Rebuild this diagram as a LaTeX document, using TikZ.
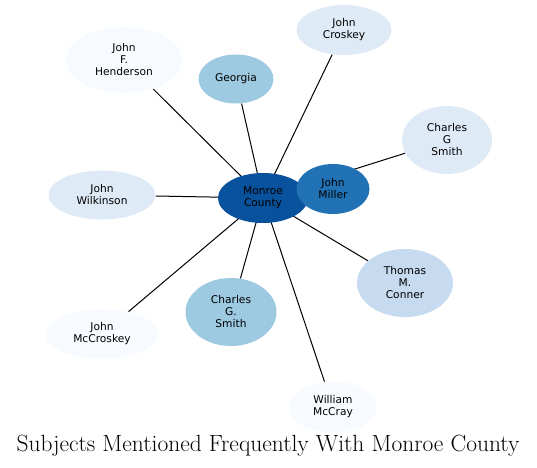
\documentclass[tikz,border=0pt]{standalone}
\usepackage{fontspec}
\usepackage{tikz}
\usetikzlibrary{shapes.geometric,backgrounds}
\newfontfamily\labelfont{DejaVu Sans}
\definecolor{bluA}{HTML}{F7FBFF}
\definecolor{bluB}{HTML}{DEEBF7}
\definecolor{bluC}{HTML}{C6DBEF}
\definecolor{bluD}{HTML}{9ECAE1}
\definecolor{bluE}{HTML}{2171B5}
\definecolor{bluF}{HTML}{08519C}
\tikzset{
  subject/.style={ellipse, draw=none, inner sep=0pt, align=center, text=black,
    font=\labelfont\fontsize{8}{9}\selectfont},
  sz/.style 2 args={minimum width=#1*0.75pt, minimum height=#2*0.75pt},
  link/.style={draw=black, line width=0.75pt}
}

\begin{document}
\begin{tikzpicture}[x=0.75pt,y=-0.75pt]
  \useasboundingbox (0,0) rectangle (537,468);

  \node[subject, fill=bluF, sz={90}{50}] (monroe) at (263,198) {Monroe\\County};
  \node[subject, fill=bluE, sz={73}{50}] (miller) at (333,189) {John\\Miller};
  \node[subject, fill=bluD, sz={75}{49}] (georgia) at (236,79) {Georgia};
  \node[subject, fill=bluA, sz={117}{66}] (henderson) at (124,60) {John\\F.\\Henderson};
  \node[subject, fill=bluB, sz={95}{50}] (croskey) at (344,30) {John\\Croskey};
  \node[subject, fill=bluB, sz={90}{68}] (smithg) at (447,140) {Charles\\G\\Smith};
  \node[subject, fill=bluB, sz={107}{49}] (wilkinson) at (102,195) {John\\Wilkinson};
  \node[subject, fill=bluA, sz={113}{50}] (mccroskey) at (102,334) {John\\McCroskey};
  \node[subject, fill=bluD, sz={91}{68}] (smithgdot) at (231,312) {Charles\\G.\\Smith};
  \node[subject, fill=bluC, sz={96}{68}] (conner) at (405,283) {Thomas\\M.\\Conner};
  \node[subject, fill=bluA, sz={88}{51}] (mccray) at (333,407) {William\\McCray};

  % spokes sit under the ellipses
  \begin{scope}[on background layer]
    \foreach \other in {miller,georgia,henderson,croskey,smithg,wilkinson,mccroskey,smithgdot,conner,mccray}
      \draw[link] (monroe.center) -- (\other);
  \end{scope}

  \node[font=\fontsize{17.6}{20}\selectfont] (title) at (268,446) {Subjects Mentioned Frequently With Monroe County};
\end{tikzpicture}
\end{document}
